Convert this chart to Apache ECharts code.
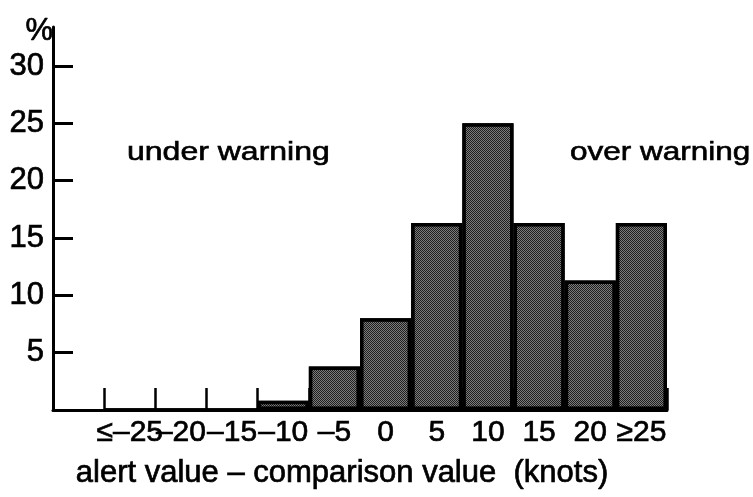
<!DOCTYPE html>
<html>
<head>
<meta charset="utf-8">
<script src="https://cdn.jsdelivr.net/npm/echarts@6/dist/echarts.min.js"></script>
<style>html,body{margin:0;padding:0;background:#fff;}#c{width:753px;height:497px;}</style>
</head>
<body>
<div id="c"></div>
<script>
const categories = ['', '≤–25', '–20', '–15', '–10', '–5', '0', '5', '10', '15', '20', '≥25'];
const percentValues = [null, 0, 0, 0, 0.8, 3.8, 8, 16.3, 25, 16.3, 11.3, 16.3];
const yTickValues = [5, 10, 15, 20, 25, 30];
const xTitle = 'alert value – comparison value  (knots)';
const yTitle = '%';
const leftNote = 'under warning';
const rightNote = 'over warning';

const FONT = '"Liberation Sans", Arial, Helvetica, sans-serif';
const thick = {textBorderColor: '#000', textBorderWidth: 0.7};
const chart = echarts.init(document.getElementById('c'), null, {renderer: 'canvas'});
chart.setOption({
  animation: false,
  backgroundColor: '#ffffff',
  grid: {left: 53, right: 86, top: 27, bottom: 87, containLabel: false},
  xAxis: {
    type: 'category',
    data: categories,
    boundaryGap: true,
    axisLine: {show: true, lineStyle: {color: '#000', width: 3}},
    axisTick: {show: true, inside: true, length: 22, alignWithLabel: false, interval: 0, lineStyle: {color: '#000', width: 2.5}},
    axisLabel: Object.assign({interval: 0, color: '#000', fontFamily: FONT, fontSize: 30, margin: 8}, thick),
    name: xTitle,
    nameLocation: 'middle',
    nameGap: 48,
    nameTextStyle: Object.assign({color: '#000', fontFamily: FONT, fontSize: 31, padding: [0, 36, 0, 0]}, thick),
    splitLine: {show: false}
  },
  yAxis: {
    type: 'value',
    min: 0,
    max: 33.4,
    axisLine: {show: true, lineStyle: {color: '#000', width: 3}},
    axisTick: {show: true, inside: true, length: 20, customValues: yTickValues, lineStyle: {color: '#000', width: 3}},
    axisLabel: Object.assign({customValues: yTickValues, color: '#000', fontFamily: FONT, fontSize: 31, margin: 9}, thick),
    splitLine: {show: false},
    name: yTitle,
    nameLocation: 'end',
    nameGap: -4,
    nameTextStyle: Object.assign({color: '#000', fontFamily: FONT, fontSize: 31, align: 'right', verticalAlign: 'middle', padding: [0, 0, 0, 0]}, thick)
  },
  series: [{
    type: 'bar',
    data: percentValues,
    barCategoryGap: 0,
    itemStyle: {
      color: '#1e1e1e',
      borderColor: '#000',
      borderWidth: 3.5,
      decal: {
        symbol: 'rect',
        symbolSize: 1,
        color: 'rgba(255,255,255,0.42)',
        dashArrayX: [[1, 1], [0, 1, 1, 0]],
        dashArrayY: [1, 0],
        rotation: 0
      }
    }
  }],
  graphic: [
    {type: 'text', x: 127, y: 153, scaleX: 1.28, style: {text: leftNote, font: '25px ' + FONT, fill: '#000', stroke: '#000', lineWidth: 0.6, verticalAlign: 'middle'}},
    {type: 'text', x: 570, y: 153, scaleX: 1.26, style: {text: rightNote, font: '25px ' + FONT, fill: '#000', stroke: '#000', lineWidth: 0.6, verticalAlign: 'middle'}}
  ]
});
</script>
</body>
</html>
